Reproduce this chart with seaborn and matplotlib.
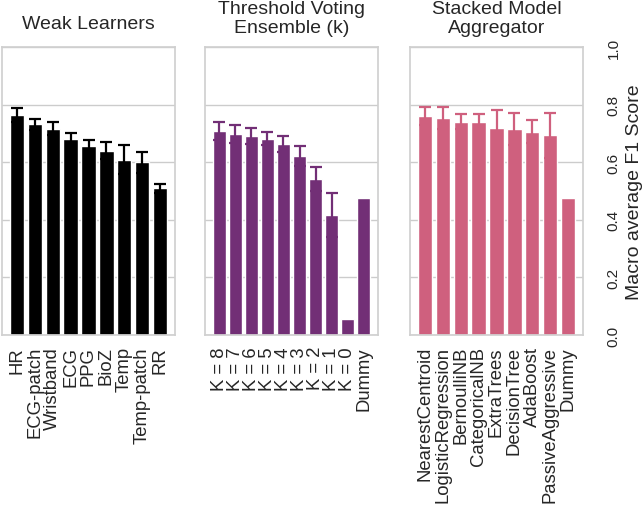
import matplotlib
matplotlib.use("Agg")
from matplotlib import pyplot as plt
import numpy as np
import seaborn as sns

weak_labels = ["HR", "ECG-patch", "Wristband", "ECG", "PPG", "BioZ", "Temp", "Temp-patch", "RR"]
weak_f1 = [0.764, 0.731, 0.716, 0.680, 0.657, 0.640, 0.609, 0.600, 0.509]
weak_err = [0.025, 0.019, 0.022, 0.020, 0.020, 0.029, 0.051, 0.036, 0.016]

vote_labels = ["K = 8", "K = 7", "K = 6", "K = 5", "K = 4", "K = 3", "K = 2", "K = 1", "K = 0", "Dummy"]
vote_f1 = [0.709, 0.698, 0.690, 0.681, 0.663, 0.622, 0.541, 0.416, 0.056, 0.477]
vote_err = [0.032, 0.031, 0.028, 0.023, 0.029, 0.035, 0.041, 0.077, None, None]

stack_labels = ["NearestCentroid", "LogisticRegression", "BernoulliNB", "CategoricalNB",
                "ExtraTrees", "DecisionTree", "AdaBoost", "PassiveAggressive", "Dummy"]
stack_f1 = [0.760, 0.753, 0.741, 0.741, 0.719, 0.715, 0.705, 0.693, 0.477]
stack_err = [0.030, 0.037, 0.026, 0.026, 0.063, 0.055, 0.040, 0.077, None]

titles = ["Weak Learners", "Threshold Voting\nEnsemble (k)", "Stacked Model\nAggregator"]
colors = ["#000000", "#722F76", "#CF607E"]

sns.set_theme(style="whitegrid")
plt.rcParams['font.family'] = ['Liberation Sans', 'DejaVu Sans']

fig = plt.figure(figsize=(6.43, 5.10), dpi=100)
W, H = 643, 510
lefts = [2, 205, 410]
pads = [14, 10.5, 10.5]

panels = [(weak_labels, weak_f1, weak_err),
          (vote_labels, vote_f1, vote_err),
          (stack_labels, stack_f1, stack_err)]

for i, (labels, vals, errs) in enumerate(panels):
    ax = fig.add_axes([lefts[i] / W, 1 - 336 / H, 173 / W, 288 / H])
    sns.barplot(x=labels, y=vals, color=colors[i], saturation=1, width=0.8,
                edgecolor="white", linewidth=1.0, ax=ax)
    idx = [j for j, e in enumerate(errs) if e is not None]
    ax.errorbar(idx, [vals[j] for j in idx], yerr=[errs[j] for j in idx],
                fmt="none", ecolor=colors[i], elinewidth=1.6, capsize=4.3,
                capthick=1.6, zorder=3)
    n = len(labels)
    margin = 0.05 * (n - 1 + 0.8)
    ax.set_xlim(-0.4 - margin, n - 1 + 0.4 + margin)
    ax.set_ylim(0, 1)
    ax.set_yticks(np.arange(0, 1.01, 0.2))
    ax.grid(axis="x", visible=False)
    ax.tick_params(axis="x", labelrotation=90, labelsize=13.3, pad=8, length=0)
    ax.set_title(titles[i], fontsize=14, pad=pads[i])
    for s in ax.spines.values():
        s.set_color("#d0d0d0")
    if i < 2:
        ax.tick_params(axis="y", labelleft=False, length=0)
    else:
        ax.yaxis.tick_right()
        ax.yaxis.set_label_position("right")
        ax.tick_params(axis="y", labelright=True, labelleft=False, length=0,
                       labelsize=11, pad=17)
        ax.set_yticklabels(["0.0", "0.2", "0.4", "0.6", "0.8", "1.0"], rotation=90, va="center")
        ax.set_ylabel("Macro average F1 Score", fontsize=14, labelpad=4)

plt.savefig("out.png", dpi=100)
